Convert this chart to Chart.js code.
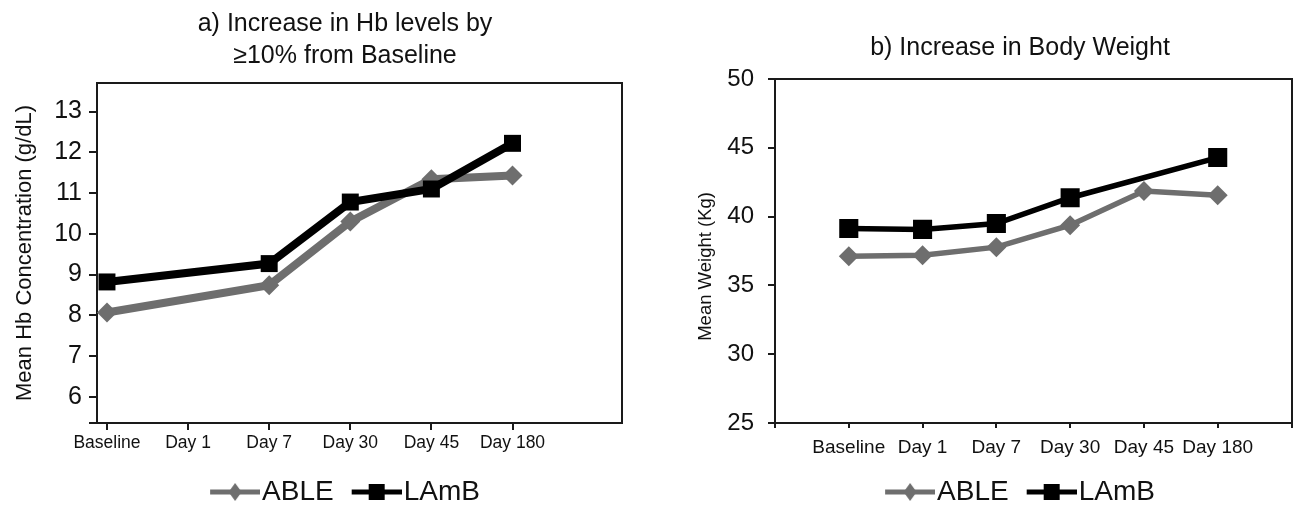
<!DOCTYPE html>
<html><head><meta charset="utf-8">
<script src="https://cdn.jsdelivr.net/npm/chart.js@4.4.1/dist/chart.umd.min.js"></script>
<style>
html,body{margin:0;padding:0;background:#fff;overflow:hidden;width:1293px;height:507px}
#c1{position:absolute;left:0;top:0}
#c2{position:absolute;left:650px;top:0}
</style></head><body>
<canvas id="c1" width="650" height="507"></canvas>
<canvas id="c2" width="655" height="507"></canvas>
<script>
// ---- data ----
const categories = ['Baseline', 'Day 1', 'Day 7', 'Day 30', 'Day 45', 'Day 180'];
const seriesNames = ['ABLE', 'LAmB'];
const hbAble = [8.07, null, 8.74, 10.30, 11.34, 11.43];
const hbLamb = [8.82, null, 9.27, 10.78, 11.10, 12.22];
const wtAble = [37.12, 37.20, 37.78, 39.38, 41.86, 41.55];
const wtLamb = [39.14, 39.07, 39.50, 41.37, null, 44.29];
const hbTicks = [6, 7, 8, 9, 10, 11, 12, 13];
const wtTicks = [25, 30, 35, 40, 45, 50];
const titleA = ['a) Increase in Hb levels by', '\u226510% from Baseline'];
const titleB = 'b) Increase in Body Weight';
const yTitleA = 'Mean Hb Concentration (g/dL)';
const yTitleB = 'Mean Weight (Kg)      ';

// ---- style ----
const FONT = "'Liberation Sans', Arial, sans-serif";
const GRAY = '#6e6e6e', BLACK = '#000000', AXIS = '#1a1a1a', TXT = '#111111';

function pts(arr) { return arr.map((v, i) => ({ x: i, y: v })); }

function makeIcon(color, style) {
  const c = document.createElement('canvas');
  c.width = 62; c.height = 24;
  const g = c.getContext('2d');
  g.strokeStyle = color; g.lineWidth = 5;
  g.beginPath(); g.moveTo(12, 12); g.lineTo(62, 12); g.stroke();
  g.fillStyle = color;
  g.beginPath();
  if (style === 'diamond') { g.moveTo(37, 3); g.lineTo(43.5, 12); g.lineTo(37, 21); g.lineTo(30.5, 12); g.closePath(); }
  else { g.rect(29, 4, 16, 16); }
  g.fill();
  return c;
}
const icons = [makeIcon(GRAY, 'diamond'), makeIcon(BLACK, 'square')];

function legendOpts() {
  return {
    display: true, position: 'bottom',
    labels: {
      usePointStyle: true, pointStyleWidth: 38, padding: 18, color: TXT,
      font: { family: FONT, size: 28 },
      generateLabels: (chart) => seriesNames.map((n, i) => ({
        text: n, pointStyle: icons[i], datasetIndex: i, hidden: false,
        fillStyle: 'rgba(0,0,0,0)', strokeStyle: 'rgba(0,0,0,0)', lineWidth: 0, fontColor: TXT
      }))
    }
  };
}

function datasets(able, lamb, lw, rSq, rDi) {
  return [
    { label: seriesNames[0], data: pts(able), borderColor: GRAY, backgroundColor: GRAY, borderWidth: lw,
      pointStyle: 'rectRot', pointRadius: rDi, pointBorderWidth: 0, pointBackgroundColor: GRAY,
      spanGaps: true, tension: 0, order: 1 },
    { label: seriesNames[1], data: pts(lamb), borderColor: BLACK, backgroundColor: BLACK, borderWidth: lw,
      pointStyle: 'rect', pointRadius: rSq, pointBorderWidth: 0, pointBackgroundColor: BLACK,
      spanGaps: true, tension: 0, order: 0 }
  ];
}

function frameAxes(rightWidth) {
  return {
    xTop: { type: 'linear', position: 'top', display: true, ticks: { display: false },
      grid: { display: false }, border: { display: true, color: AXIS, width: 2 },
      afterFit: s => { s.height = 0; s.paddingLeft = 0; s.paddingRight = 0; } },
    yRight: { type: 'linear', position: 'right', display: true, ticks: { display: false },
      grid: { display: false }, border: { display: true, color: AXIS, width: 2 },
      afterFit: s => { s.width = rightWidth; s.paddingTop = 0; s.paddingBottom = 0; } }
  };
}

// ---- chart a ----
new Chart(document.getElementById('c1'), {
  type: 'line',
  data: { datasets: datasets(hbAble, hbLamb, 8, 12, 10) },
  options: {
    responsive: false, animation: false, devicePixelRatio: 1,
    layout: { padding: { left: 0, right: -40, top: 0, bottom: -9 } },
    plugins: {
      tooltip: { enabled: false },
      title: { display: true, text: titleA, color: TXT,
        font: { family: FONT, size: 25, weight: 'normal', lineHeight: 1.28 },
        padding: { top: 8, bottom: 11 } },
      legend: legendOpts()
    },
    scales: Object.assign({
      x: { type: 'linear', position: 'bottom', min: -0.123, max: 6.35,
        afterBuildTicks: s => { s.ticks = categories.map((_, i) => ({ value: i })); },
        afterFit: s => { s.height = 37; s.paddingLeft = 0; s.paddingRight = 0; },
        ticks: { autoSkip: false, maxRotation: 0, minRotation: 0, padding: 3, color: TXT,
          font: { family: FONT, size: 17.5 }, callback: v => categories[v] ?? '' },
        grid: { display: true, drawOnChartArea: false, drawTicks: true, tickLength: 7, color: AXIS, lineWidth: 2 },
        border: { display: true, color: AXIS, width: 2 } },
      y: { type: 'linear', position: 'left', min: 5.36, max: 13.7,
        afterBuildTicks: s => { s.ticks = [s.min].concat(hbTicks).map(v => ({ value: v })); },
        afterFit: s => { s.width = 97; },
        ticks: { padding: 7, color: TXT, font: { family: FONT, size: 25 },
          callback: v => Number.isInteger(v) ? String(v) : '' },
        grid: { display: true, drawOnChartArea: false, drawTicks: true, tickLength: 8, color: AXIS, lineWidth: 2 },
        border: { display: true, color: AXIS, width: 2 },
        title: { display: true, text: yTitleA, color: TXT, font: { family: FONT, size: 22 }, padding: { top: 12, bottom: 0 } } }
    }, frameAxes(68))
  }
});

// ---- chart b ----
new Chart(document.getElementById('c2'), {
  type: 'line',
  data: { datasets: datasets(wtAble, wtLamb, 5.5, 13.5, 10) },
  options: {
    responsive: false, animation: false, devicePixelRatio: 1,
    layout: { padding: { left: 0, right: -85, top: 0, bottom: -9 } },
    plugins: {
      tooltip: { enabled: false },
      title: { display: true, text: titleB, color: TXT,
        font: { family: FONT, size: 25, weight: 'normal', lineHeight: 1.28 },
        padding: { top: 32, bottom: 15 } },
      legend: legendOpts()
    },
    scales: Object.assign({
      x: { type: 'linear', position: 'bottom', min: -1, max: 6,
        afterBuildTicks: s => { s.ticks = [-1].concat(categories.map((_, i) => i), [6]).map(v => ({ value: v })); },
        afterFit: s => { s.height = 37; s.paddingLeft = 0; s.paddingRight = 0; },
        ticks: { autoSkip: false, maxRotation: 0, minRotation: 0, padding: 8, color: TXT,
          font: { family: FONT, size: 19 }, callback: v => categories[v] ?? '' },
        grid: { display: true, drawOnChartArea: false, drawTicks: true, tickLength: 5, color: AXIS, lineWidth: 2 },
        border: { display: true, color: AXIS, width: 2 } },
      y: { type: 'linear', position: 'left', min: 25, max: 50,
        afterBuildTicks: s => { s.ticks = wtTicks.map(v => ({ value: v })); },
        afterFit: s => { s.width = 125; },
        ticks: { padding: 14, color: TXT, font: { family: FONT, size: 24 }, callback: v => String(v) },
        grid: { display: true, drawOnChartArea: false, drawTicks: true, tickLength: 7, color: AXIS, lineWidth: 2 },
        border: { display: true, color: AXIS, width: 2 },
        title: { display: true, text: yTitleB, color: TXT, font: { family: FONT, size: 18.5 }, padding: { top: 45, bottom: 0 } } }
    }, frameAxes(98))
  }
});
</script>
</body></html>
